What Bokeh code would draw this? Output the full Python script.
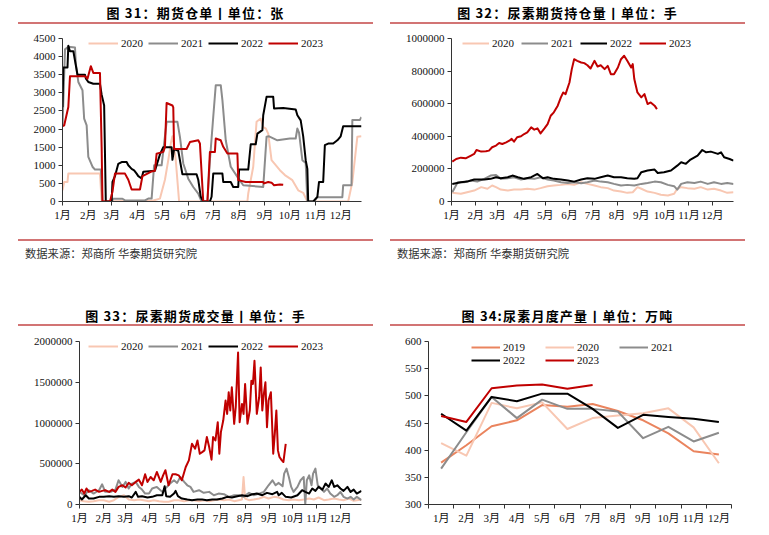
from bokeh.plotting import figure
from bokeh.models import Range1d, FixedTicker, Legend, LegendItem, Div, BasicTickFormatter
from bokeh.layouts import column, row
from bokeh.embed import file_html
from bokeh.resources import INLINE

# ---------------- shared axis data ----------------
month_labels = ["1月", "2月", "3月", "4月", "5月", "6月", "7月", "8月", "9月", "10月", "11月", "12月"]
month_start_days = [1, 32, 60, 91, 121, 152, 182, 213, 244, 274, 305, 335]
month_numbers = [1, 2, 3, 4, 5, 6, 7, 8, 9, 10, 11, 12]

# ---------------- 图31 期货仓单 (张) ----------------
p1_2020_day = [1, 3, 7, 8, 46, 48, 110, 118, 124, 128, 131, 133, 135, 137, 141, 223, 224, 230, 234, 239, 242, 245, 248, 252, 262, 268, 277, 284, 290, 295, 344, 349, 355, 360]
p1_2020_val = [310, 540, 540, 770, 770, 0, 30, 80, 600, 1140, 1600, 1800, 1500, 1140, 0, 0, 220, 960, 2200, 2290, 2050, 2020, 1875, 1140, 865, 730, 590, 310, 240, 0, 0, 540, 1785, 1800]
p1_2021_day = [1, 4, 8, 16, 17, 20, 25, 27, 30, 32, 37, 40, 47, 49, 60, 62, 73, 76, 100, 104, 108, 111, 115, 120, 126, 139, 142, 146, 152, 158, 164, 168, 175, 178, 182, 185, 191, 193, 197, 203, 211, 218, 242, 246, 249, 259, 274, 281, 283, 285, 289, 293, 295, 303, 307, 337, 338, 348, 349, 358, 360]
p1_2021_val = [2060, 4200, 4270, 4250, 3800, 3300, 3070, 2290, 2100, 1230, 960, 880, 880, 0, 0, 75, 75, 30, 30, 80, 80, 1000, 1000, 1000, 2200, 2200, 1785, 1050, 630, 400, 220, 0, 0, 1140, 2340, 3210, 3210, 2800, 1690, 960, 680, 450, 400, 1785, 1800, 1690, 1740, 1740, 2015, 1900, 1140, 1060, 0, 0, 120, 120, 450, 450, 2250, 2250, 2330]
p1_2022_day = [1, 2, 7, 8, 10, 14, 19, 28, 29, 32, 38, 46, 48, 51, 53, 60, 61, 64, 68, 72, 78, 80, 84, 87, 90, 92, 96, 98, 112, 114, 118, 122, 132, 133, 135, 140, 145, 162, 164, 167, 170, 178, 180, 182, 193, 194, 203, 206, 212, 213, 224, 227, 233, 235, 241, 242, 246, 254, 255, 266, 281, 283, 287, 290, 293, 295, 296, 302, 307, 309, 314, 316, 320, 326, 331, 335, 338, 360]
p1_2022_val = [2600, 3700, 3700, 4300, 4150, 4150, 3500, 3500, 3400, 3300, 3250, 3250, 2950, 2650, 0, 0, 540, 700, 1040, 1090, 1090, 1000, 900, 860, 770, 700, 640, 820, 850, 1000, 1300, 1500, 1500, 1150, 1450, 1400, 750, 750, 600, 130, 0, 0, 130, 770, 770, 540, 540, 400, 400, 880, 880, 1580, 1580, 1875, 1970, 2380, 2890, 2890, 2570, 2580, 2540, 2380, 2240, 1800, 1140, 900, 0, 0, 130, 540, 540, 1555, 1600, 1600, 1690, 1800, 2080, 2080]
p1_2023_day = [1, 3, 8, 10, 28, 31, 35, 38, 46, 48, 49, 58, 61, 64, 76, 80, 84, 94, 97, 103, 108, 112, 114, 122, 124, 126, 133, 134, 135, 150, 154, 164, 166, 170, 175, 178, 184, 185, 191, 194, 199, 211, 212, 221, 242, 243, 248, 252, 255, 262, 266]
p1_2023_val = [2080, 2100, 2610, 3460, 3460, 3390, 3735, 3550, 3550, 1500, 0, 0, 270, 770, 770, 600, 330, 330, 700, 770, 830, 850, 1320, 1370, 1500, 2720, 2650, 2600, 1450, 1450, 1640, 1690, 1600, 0, 0, 1370, 1370, 1740, 1690, 1510, 1325, 1325, 590, 540, 540, 500, 540, 520, 450, 470, 460]
p1_yticks = [0, 500, 1000, 1500, 2000, 2500, 3000, 3500, 4000, 4500]

# ---------------- 图32 尿素期货持仓量 (手) ----------------
p2_2020_day = [2, 13, 21, 30, 39, 47, 53, 58, 64, 73, 81, 90, 98, 107, 115, 124, 132, 141, 150, 158, 167, 175, 184, 192, 201, 209, 218, 226, 233, 239, 244, 252, 261, 269, 278, 286, 290, 295, 303, 312, 320, 329, 337, 346, 354, 362]
p2_2020_val = [53000, 47000, 57000, 67000, 88000, 78000, 98000, 88000, 73000, 67000, 73000, 73000, 78000, 73000, 82000, 94000, 98000, 102000, 108000, 102000, 118000, 108000, 98000, 88000, 82000, 67000, 61000, 53000, 57000, 88000, 78000, 61000, 53000, 41000, 37000, 47000, 78000, 88000, 82000, 78000, 88000, 73000, 78000, 67000, 53000, 57000]
p2_2021_day = [2, 9, 17, 26, 34, 43, 51, 58, 64, 73, 81, 90, 98, 107, 115, 124, 132, 141, 150, 158, 167, 175, 184, 192, 201, 209, 218, 226, 235, 244, 252, 261, 269, 278, 286, 290, 295, 303, 312, 320, 329, 337, 346, 354, 362]
p2_2021_val = [57000, 118000, 118000, 129000, 122000, 139000, 159000, 163000, 139000, 143000, 149000, 135000, 143000, 139000, 149000, 135000, 129000, 118000, 114000, 118000, 112000, 118000, 129000, 122000, 118000, 108000, 98000, 102000, 98000, 108000, 114000, 122000, 118000, 102000, 94000, 73000, 108000, 118000, 114000, 122000, 108000, 118000, 108000, 114000, 108000]
p2_2022_day = [2, 13, 21, 30, 43, 51, 58, 64, 73, 79, 86, 94, 103, 111, 118, 124, 132, 141, 150, 158, 167, 175, 184, 192, 201, 209, 218, 226, 235, 239, 244, 252, 261, 265, 273, 282, 290, 295, 301, 307, 316, 322, 327, 333, 342, 346, 350, 357, 362]
p2_2022_val = [108000, 118000, 122000, 135000, 135000, 139000, 149000, 143000, 149000, 159000, 149000, 139000, 149000, 169000, 143000, 149000, 139000, 135000, 129000, 122000, 135000, 143000, 139000, 149000, 159000, 149000, 149000, 143000, 139000, 143000, 180000, 190000, 196000, 175000, 180000, 190000, 220000, 241000, 231000, 257000, 282000, 316000, 302000, 306000, 292000, 302000, 271000, 261000, 251000]
p2_2023_day = [2, 7, 13, 19, 26, 30, 33, 39, 45, 49, 53, 58, 62, 66, 71, 75, 78, 81, 85, 90, 94, 98, 103, 107, 111, 115, 120, 124, 128, 132, 137, 141, 144, 147, 152, 155, 158, 162, 167, 171, 175, 179, 184, 188, 192, 197, 201, 205, 209, 214, 218, 222, 226, 231, 233, 235, 239, 244, 248, 252, 256, 261, 264]
p2_2023_val = [245000, 261000, 269000, 265000, 282000, 292000, 316000, 306000, 308000, 312000, 333000, 343000, 359000, 353000, 363000, 373000, 384000, 367000, 394000, 400000, 414000, 424000, 455000, 441000, 449000, 418000, 449000, 475000, 526000, 547000, 588000, 639000, 669000, 659000, 730000, 812000, 873000, 863000, 853000, 849000, 836000, 816000, 863000, 828000, 836000, 812000, 832000, 781000, 781000, 822000, 873000, 894000, 863000, 822000, 843000, 751000, 669000, 639000, 659000, 598000, 608000, 588000, 567000]
p2_yticks = [0, 200000, 400000, 600000, 800000, 1000000]

# ---------------- 图33 尿素期货成交量 (手) ----------------
p3_2020_day = [1, 7, 13, 19, 26, 32, 39, 45, 51, 58, 64, 71, 77, 83, 90, 96, 103, 109, 115, 122, 128, 135, 141, 147, 154, 160, 167, 173, 179, 186, 192, 199, 205, 209, 211, 213, 218, 224, 231, 237, 243, 250, 256, 262, 269, 275, 282, 288, 295, 301, 307, 314, 320, 327, 333, 339, 346, 352, 362]
p3_2020_val = [53000, 41000, 33000, 41000, 53000, 53000, 33000, 53000, 94000, 114000, 61000, 53000, 61000, 53000, 41000, 53000, 41000, 33000, 33000, 53000, 53000, 41000, 53000, 53000, 41000, 53000, 41000, 53000, 61000, 53000, 61000, 41000, 53000, 61000, 338000, 73000, 53000, 61000, 73000, 94000, 73000, 94000, 86000, 61000, 53000, 61000, 53000, 61000, 73000, 61000, 86000, 53000, 61000, 73000, 61000, 53000, 73000, 45000, 61000]
p3_2021_day = [1, 7, 13, 19, 26, 30, 34, 41, 47, 51, 56, 60, 64, 68, 73, 77, 81, 85, 90, 94, 100, 107, 113, 117, 122, 126, 130, 135, 139, 143, 147, 154, 160, 167, 173, 179, 186, 192, 199, 205, 211, 218, 224, 231, 237, 243, 248, 252, 256, 261, 263, 266, 269, 272, 275, 280, 284, 288, 290, 292, 295, 298, 300, 303, 306, 310, 314, 318, 322, 327, 331, 335, 339, 344, 348, 352, 356, 362]
p3_2021_val = [155000, 114000, 175000, 134000, 175000, 248000, 155000, 155000, 183000, 297000, 216000, 277000, 196000, 257000, 277000, 216000, 183000, 134000, 134000, 196000, 216000, 155000, 216000, 257000, 297000, 265000, 338000, 277000, 236000, 216000, 155000, 175000, 143000, 155000, 114000, 134000, 126000, 94000, 114000, 114000, 94000, 143000, 114000, 134000, 155000, 236000, 297000, 236000, 265000, 224000, 379000, 440000, 338000, 216000, 155000, 216000, 297000, 338000, 0, 297000, 358000, 236000, 379000, 440000, 236000, 196000, 155000, 196000, 134000, 94000, 114000, 155000, 94000, 73000, 94000, 61000, 94000, 53000]
p3_2022_day = [1, 4, 9, 13, 19, 26, 32, 39, 45, 51, 58, 64, 68, 73, 76, 81, 88, 94, 100, 107, 110, 112, 117, 122, 124, 127, 132, 139, 145, 152, 158, 164, 171, 177, 184, 190, 196, 203, 209, 216, 222, 228, 235, 241, 248, 254, 256, 260, 265, 272, 280, 286, 290, 295, 299, 303, 307, 312, 316, 320, 324, 327, 331, 335, 339, 344, 348, 352, 356, 362]
p3_2022_val = [94000, 61000, 114000, 73000, 73000, 94000, 94000, 102000, 94000, 102000, 94000, 102000, 86000, 155000, 94000, 102000, 86000, 94000, 114000, 114000, 224000, 102000, 94000, 134000, 167000, 102000, 73000, 61000, 53000, 61000, 61000, 53000, 61000, 61000, 73000, 94000, 86000, 102000, 114000, 102000, 126000, 134000, 114000, 143000, 126000, 155000, 114000, 143000, 94000, 86000, 114000, 175000, 155000, 134000, 196000, 167000, 216000, 183000, 257000, 216000, 297000, 216000, 236000, 196000, 167000, 216000, 155000, 183000, 134000, 167000]
p3_2023_day = [1, 4, 7, 10, 13, 17, 21, 26, 30, 34, 39, 43, 47, 51, 56, 60, 64, 68, 73, 77, 81, 85, 88, 92, 96, 100, 105, 108, 111, 115, 120, 124, 128, 132, 137, 141, 145, 149, 152, 155, 158, 161, 164, 167, 170, 172, 175, 178, 180, 182, 185, 188, 190, 192, 194, 196, 199, 201, 204, 206, 209, 211, 213, 216, 219, 221, 223, 225, 228, 231, 233, 235, 237, 239, 241, 243, 246, 249, 251, 253, 255, 257, 260, 262, 265]
p3_2023_val = [155000, 183000, 134000, 196000, 155000, 167000, 183000, 155000, 167000, 175000, 155000, 183000, 155000, 216000, 236000, 208000, 265000, 236000, 277000, 305000, 236000, 371000, 277000, 338000, 297000, 399000, 277000, 358000, 420000, 236000, 371000, 371000, 358000, 297000, 460000, 542000, 745000, 684000, 786000, 623000, 643000, 664000, 827000, 705000, 550000, 827000, 786000, 1010000, 623000, 888000, 1030000, 1275000, 1112000, 1377000, 1153000, 1438000, 990000, 1193000, 1865000, 1010000, 1234000, 1112000, 1479000, 990000, 1153000, 1519000, 1479000, 1764000, 1112000, 1316000, 1682000, 1153000, 1356000, 1499000, 949000, 1275000, 1377000, 623000, 869000, 1153000, 664000, 583000, 542000, 521000, 745000]
p3_yticks = [0, 500000, 1000000, 1500000, 2000000]

# ---------------- 图34 尿素月度产量 (万吨) ----------------
p4_2019 = [377, 409, 444, 455, 483, 480, 485, 472, 455, 431, 398, 392]
p4_2020 = [413, 390, 487, 477, 488, 439, 459, 464, 468, 477, 442, 376]
p4_2021 = [366, 433, 498, 459, 493, 476, 476, 471, 422, 443, 416, 432]
p4_2022 = [467, 436, 498, 490, 504, 504, 476, 441, 465, 461, 458, 452]
p4_2023 = [463, 452, 514, 519, 521, 513, 520]
p4_yticks = [300, 350, 400, 450, 500, 550, 600]

# ---------------- styles ----------------
C2019 = "#EA845E"
C2020 = "#F8C7B2"
C2021 = "#8C8C8C"
C2022 = "#000000"
C2023 = "#C00000"
RULE = "#D27474"
NUM_FONT = "Liberation Serif, Noto Sans CJK SC"
CJK_CSS = "font-family:'Noto Sans CJK SC',sans-serif;"


def make_fig(width, height, left, right, top, bottom, xr, yr, yticks):
    p = figure(width=width, height=height, x_range=xr, y_range=yr, title=None,
               output_backend="svg", toolbar_location=None, tools="",
               min_border_left=left, min_border_right=right,
               min_border_top=top, min_border_bottom=bottom)
    p.outline_line_color = None
    p.grid.visible = False
    for ax in (p.xaxis[0], p.yaxis[0]):
        ax.axis_line_color = "#333333"
        ax.axis_line_width = 1
        ax.major_tick_line_color = "#333333"
        ax.major_tick_out = 4
        ax.major_tick_in = 0
        ax.minor_tick_line_color = None
        ax.major_label_text_font = NUM_FONT
        ax.major_label_text_font_size = "11px"
        ax.major_label_text_color = "#111111"
        ax.major_label_standoff = 3
    p.yaxis[0].ticker = FixedTicker(ticks=yticks)
    p.yaxis[0].formatter = BasicTickFormatter(use_scientific=False)
    return p


def month_axis(p):
    ax = p.xaxis[0]
    ax.ticker = FixedTicker(ticks=month_start_days)
    ax.major_label_overrides = {d: lab for d, lab in zip(month_start_days, month_labels)}


def add_legend(p, items, x, y, glyph_w, spacing):
    leg = Legend(items=items, location=(x, y), orientation="horizontal",
                 glyph_width=glyph_w, glyph_height=12, label_height=12,
                 label_standoff=3, spacing=spacing, padding=0, margin=0,
                 border_line_color=None, background_fill_alpha=0,
                 label_text_font="Liberation Serif", label_text_font_size="11px",
                 label_text_color="#111111")
    p.add_layout(leg)


def title_div(text, width, ml, pad_top, total_h):
    html = ('<div style="margin-left:%dpx;width:355px;padding-top:%dpx;line-height:14px;'
            'text-align:center;%sfont-weight:bold;font-size:13px;'
            'letter-spacing:1.2px;color:#000;white-space:nowrap;">%s</div>'
            % (ml, pad_top, CJK_CSS, text))
    return Div(text=html, width=width, height=total_h, margin=0)


def rule_div(ml, top=0):
    return Div(text="", width=355, height=2, margin=(top, 0, 0, ml),
               styles={"background-color": RULE})


def source_div(width, ml):
    html = ('<div style="margin-left:%dpx;padding-top:5px;line-height:14px;'
            '%sfont-size:11.3px;color:#333;white-space:nowrap;">'
            '数据来源：郑商所 华泰期货研究院</div>' % (ml, CJK_CSS))
    return Div(text=html, width=width, height=21, margin=0)


def series(p, xs, ys, color, width=2):
    return p.line(xs, ys, line_color=color, line_width=width, line_join="round")


# ---- panel 1 ----
f1 = make_fig(385, 208, 62, 24, 14, 31, Range1d(1, 360), Range1d(0, 4500), p1_yticks)
month_axis(f1)
r = [series(f1, p1_2020_day, p1_2020_val, C2020),
     series(f1, p1_2021_day, p1_2021_val, C2021),
     series(f1, p1_2022_day, p1_2022_val, C2022),
     series(f1, p1_2023_day, p1_2023_val, C2023)]
add_legend(f1, [LegendItem(label=l, renderers=[rr]) for l, rr in zip(["2020", "2021", "2022", "2023"], r)], 26, 152, 30, 5)

# ---- panel 2 ----
f2 = make_fig(376, 208, 66, 28, 14, 31, Range1d(1, 362), Range1d(0, 1000000), p2_yticks)
month_axis(f2)
r = [series(f2, p2_2020_day, p2_2020_val, C2020),
     series(f2, p2_2021_day, p2_2021_val, C2021),
     series(f2, p2_2022_day, p2_2022_val, C2022),
     series(f2, p2_2023_day, p2_2023_val, C2023)]
add_legend(f2, [LegendItem(label=l, renderers=[rr]) for l, rr in zip(["2020", "2021", "2022", "2023"], r)], 11, 152, 27, 7)

# ---- panel 3 ----
f3 = make_fig(385, 200, 79, 24, 15, 22, Range1d(1, 362), Range1d(0, 2000000), p3_yticks)
month_axis(f3)
r = [series(f3, p3_2020_day, p3_2020_val, C2020),
     series(f3, p3_2021_day, p3_2021_val, C2021),
     series(f3, p3_2022_day, p3_2022_val, C2022),
     series(f3, p3_2023_day, p3_2023_val, C2023)]
add_legend(f3, [LegendItem(label=l, renderers=[rr]) for l, rr in zip(["2020", "2021", "2022", "2023"], r)], 9, 152, 30, 5)

# ---- panel 4 ----
f4 = make_fig(376, 200, 43, 30, 15, 22, Range1d(0.5, 12.5), Range1d(300, 600), p4_yticks)
ax4 = f4.xaxis[0]
ax4.ticker = FixedTicker(ticks=month_numbers, minor_ticks=[m - 0.5 for m in month_numbers] + [12.5])
ax4.major_label_overrides = {m: lab for m, lab in zip(month_numbers, month_labels)}
ax4.major_tick_line_color = None
ax4.minor_tick_line_color = "#333333"
ax4.minor_tick_out = 4
ax4.minor_tick_in = 0
ax4.major_label_standoff = 3
r19 = series(f4, month_numbers, p4_2019, C2019)
r20 = series(f4, month_numbers, p4_2020, C2020)
r21 = series(f4, month_numbers, p4_2021, C2021)
r22 = series(f4, month_numbers, p4_2022, C2022)
r23 = series(f4, month_numbers[:len(p4_2023)], p4_2023, C2023)
add_legend(f4, [LegendItem(label="2019", renderers=[r19]), LegendItem(label="2020", renderers=[r20]),
                LegendItem(label="2021", renderers=[r21])], 43, 151, 29, 20)
add_legend(f4, [LegendItem(label="2022", renderers=[r22]), LegendItem(label="2023", renderers=[r23])], 43, 138, 29, 20)

# ---- layout (page has no body margin: offsets are built in) ----
left_top = column(title_div("图 31：期货仓单丨单位：张", 385, 18, 6, 22), rule_div(18), f1,
                  rule_div(18, 7), source_div(385, 25))
right_top = column(title_div("图 32：尿素期货持仓量丨单位：手", 376, 5, 6, 22), rule_div(5), f2,
                   rule_div(5, 7), source_div(376, 12))
left_bot = column(title_div("图 33：尿素期货成交量丨单位：手", 385, 18, 47, 62), rule_div(18), f3)
right_bot = column(title_div("图 34:尿素月度产量丨单位：万吨", 376, 5, 47, 62), rule_div(5), f4)

page = column(row(left_top, right_top), row(left_bot, right_bot))

open("out.html", "w").write(file_html(page, INLINE))
